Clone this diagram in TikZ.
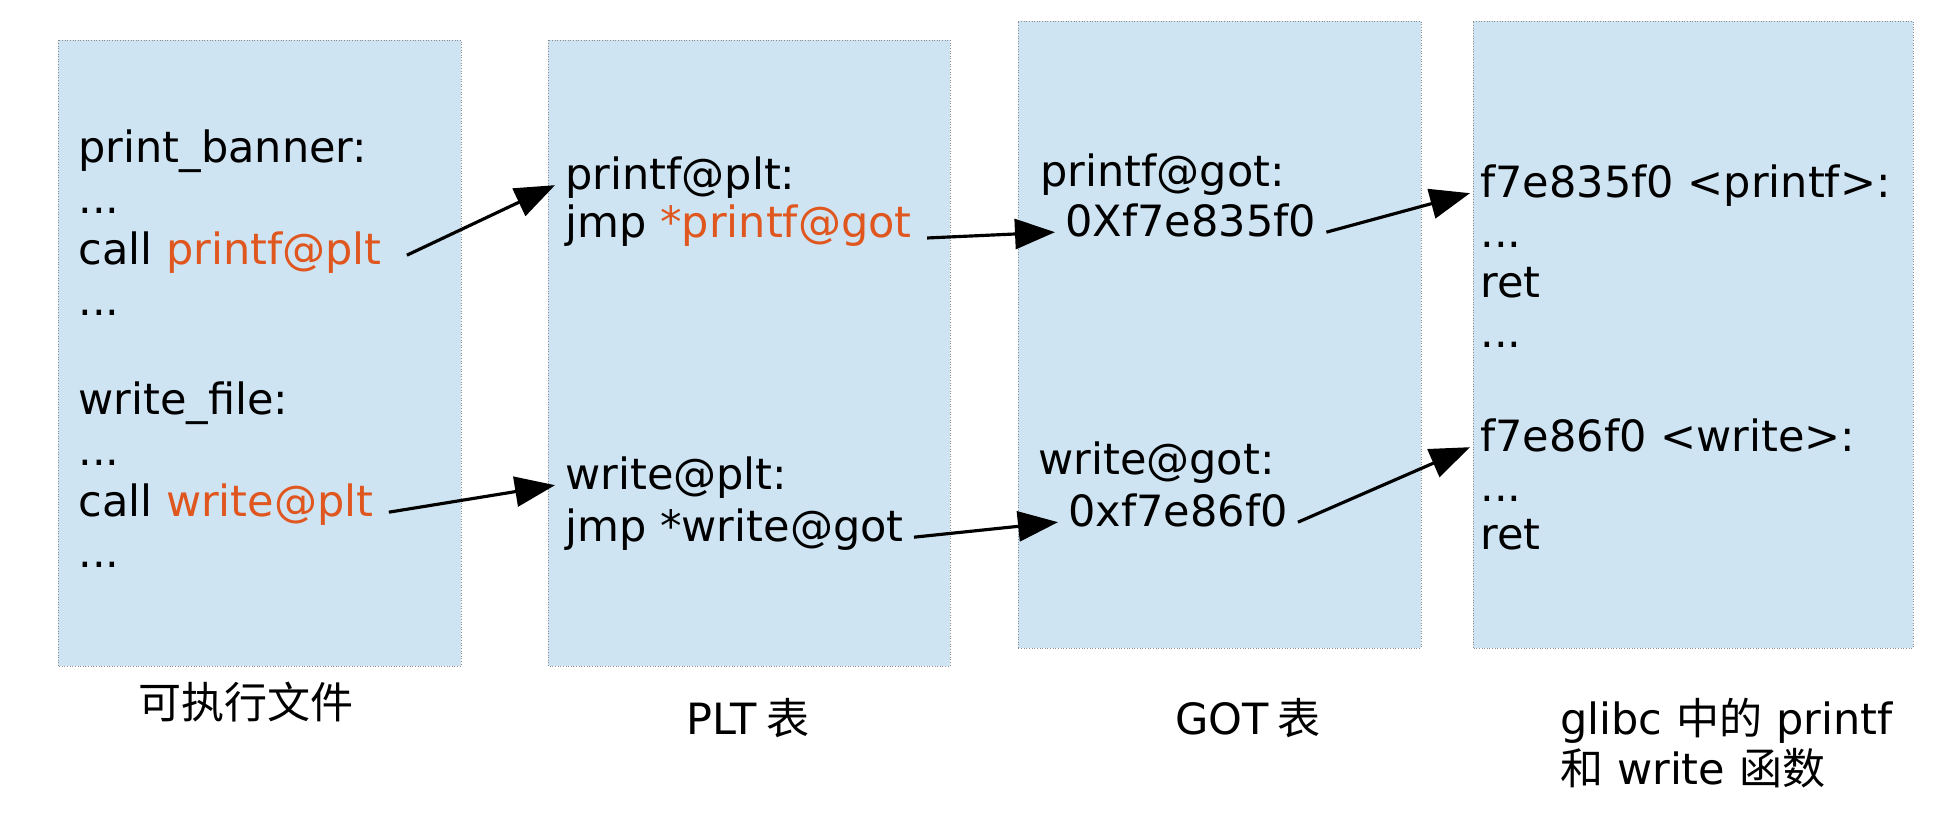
\documentclass[tikz,border=0pt]{standalone}
\usepackage{fontspec}
\setmainfont{DejaVu Sans}
\newfontfamily\cjk{Noto Sans CJK SC}
\usetikzlibrary{arrows.meta}
\definecolor{boxBlue}{HTML}{CFE4F2}
\definecolor{boxEdge}{HTML}{8C8C8C}
\definecolor{callOrange}{HTML}{E0561F}

\begin{document}
\begin{tikzpicture}[>={Triangle[length=0.8cm,width=0.6cm]},
    every node/.style={font=\fontsize{24.5}{28.5}\selectfont},
    tbl/.style={fill=boxBlue, draw=boxEdge, densely dotted, line width=0.5pt},
    line/.style={anchor=base west, inner xsep=0.2cm, inner ysep=0pt},
    jump/.style={->, line width=1.8pt}]

    \useasboundingbox (0,0) rectangle (38.88,16.4);

    % the four tables
    \draw[tbl] (1.16,3.08) rectangle (9.22,15.6);
    \draw[tbl] (10.96,3.08) rectangle (19.0,15.6);
    \draw[tbl] (20.36,3.44) rectangle (28.42,15.98);
    \draw[tbl] (29.46,3.44) rectangle (38.26,15.98);

    % executable
    \node[line] (banner) at (1.36,13.14) {print\_banner:};
    \node[line] (bannerDots) at (1.36,12.12) {...};
    \node[line] (callPrintf) at (1.36,11.10) {call \textcolor{callOrange}{printf@plt}};
    \node[line] (bannerEnd) at (1.36,10.08) {...};
    \node[line] (wfile) at (1.36,8.10) {write\_file:};
    \node[line] (wfileDots) at (1.36,7.08) {...};
    \node[line] (callWrite) at (1.36,6.06) {call \textcolor{callOrange}{write@plt}};
    \node[line] (wfileEnd) at (1.36,5.04) {...};

    % plt
    \node[line] (pltPrintf) at (11.10,12.60) {printf@plt:};
    \node[line] (jmpPrintf) at (11.10,11.64) {jmp \textcolor{callOrange}{*printf@got}};
    \node[line] (pltWrite) at (11.10,6.60) {write@plt:};
    \node[line] (jmpWrite) at (11.10,5.56) {jmp *write@got};

    % got
    \node[line] (gotPrintf) at (20.60,12.66) {printf@got:};
    \node[line] (addrPrintf) at (21.10,11.66) {0Xf7e835f0};
    \node[line] (gotWrite) at (20.56,6.90) {write@got:};
    \node[line] (addrWrite) at (21.16,5.86) {0xf7e86f0};

    % glibc
    \node[line] (libPrintf) at (29.40,12.44) {f7e835f0 <printf>:};
    \node[line] (libPrintfDots) at (29.40,11.44) {...};
    \node[line] (libPrintfRet) at (29.40,10.44) {ret};
    \node[line] (libPrintfEnd) at (29.40,9.44) {...};
    \node[line] (libWrite) at (29.40,7.36) {f7e86f0 <write>:};
    \node[line] (libWriteDots) at (29.40,6.36) {...};
    \node[line] (libWriteRet) at (29.40,5.40) {ret};

    % captions
    \node[anchor=base] (capExe) at (4.92,2.02) {\cjk 可执行文件};
    \node[anchor=base] (capPlt) at (14.96,1.70) {PLT\hspace{-0.1em} {\cjk 表}};
    \node[anchor=base] (capGot) at (24.96,1.70) {GOT\hspace{-0.1em} {\cjk 表}};
    \node[line, inner xsep=0pt] (capLibA) at (31.2,1.70) {glibc {\cjk 中的} printf};
    \node[line, inner xsep=0pt] (capLibB) at (31.2,0.70) {{\cjk 和} write {\cjk 函数}};

    % jumps
    \draw[jump] ([xshift=0.3cm,yshift=0.1cm]callPrintf.mid east) -- (pltPrintf.mid west);
    \draw[jump] ([xshift=0.1cm]jmpPrintf.base east) -- (addrPrintf.mid west);
    \draw[jump] (addrPrintf.mid east) -- (libPrintf.mid west);
    \draw[jump] ([xshift=0.1cm]callWrite.mid east) -- (pltWrite.mid west);
    \draw[jump] (jmpWrite.mid east) -- (addrWrite.mid west);
    \draw[jump] (addrWrite.mid east) -- (libWrite.mid west);

\end{tikzpicture}
\end{document}
